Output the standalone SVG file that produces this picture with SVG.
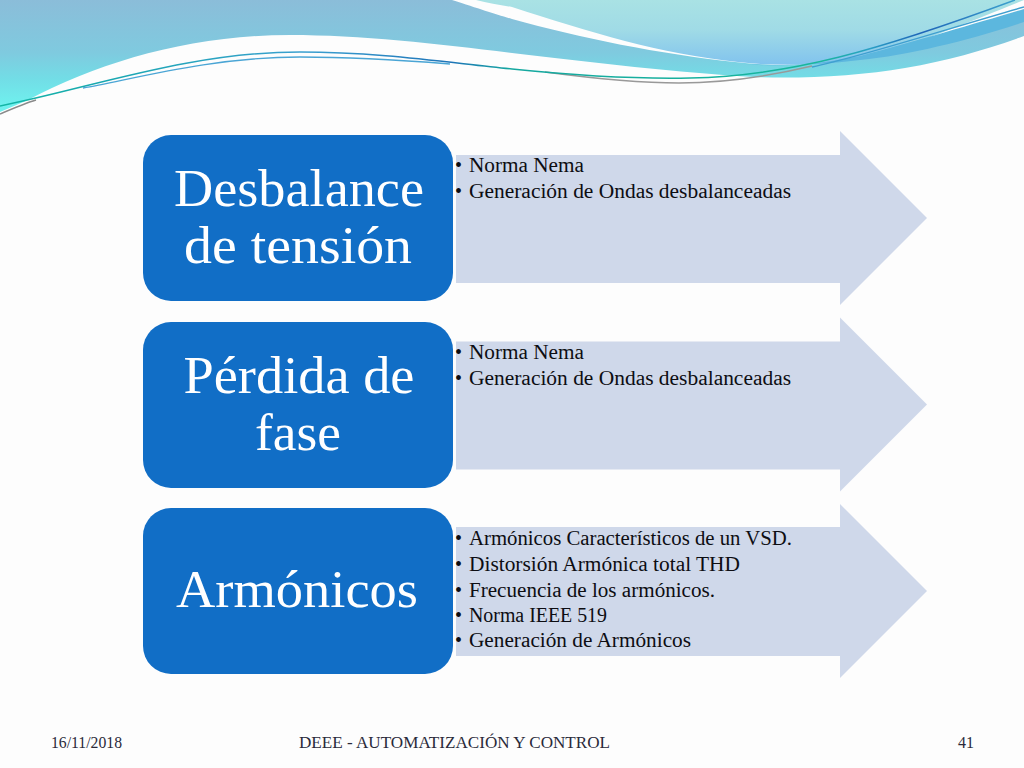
<svg xmlns="http://www.w3.org/2000/svg" width="1024" height="768" viewBox="0 0 1024 768">
<defs>
<linearGradient id="g1" gradientUnits="userSpaceOnUse" x1="0" y1="0" x2="0" y2="105"><stop offset="0" stop-color="#8bbdd9"/><stop offset="0.5" stop-color="#7fcadf"/><stop offset="0.75" stop-color="#72dde6"/><stop offset="1" stop-color="#6ff0ee"/></linearGradient>
<linearGradient id="g2" gradientUnits="userSpaceOnUse" x1="0" y1="0" x2="0" y2="66"><stop offset="0" stop-color="#a9e2e4"/><stop offset="0.45" stop-color="#a0dbe6"/><stop offset="1" stop-color="#80c2ee"/></linearGradient>
<linearGradient id="ln" gradientUnits="userSpaceOnUse" x1="0" y1="0" x2="1024" y2="0"><stop offset="0" stop-color="#13b5a5"/><stop offset="0.1" stop-color="#18a8b0"/><stop offset="0.3" stop-color="#3a9fd0"/><stop offset="0.44" stop-color="#1e74b8"/><stop offset="0.5" stop-color="#15a8a0"/><stop offset="0.8" stop-color="#18b79c"/><stop offset="0.85" stop-color="#2a9fc5"/><stop offset="0.9" stop-color="#1e64b8"/><stop offset="1" stop-color="#3fa8d0"/></linearGradient>
</defs>
<style>
.box{fill:#116ec6}
.arrow{fill:#cfd8ea}
.head{font-family:"Liberation Serif","DejaVu Serif",serif;font-size:53px;fill:#fff;text-anchor:middle}
.item{font-family:"Liberation Serif","DejaVu Serif",serif;font-size:20px;fill:#0d0d12}
.bul{font-family:"Liberation Serif","DejaVu Serif",serif;font-size:20px;fill:#0d0d12}
.foot{font-family:"Liberation Serif","DejaVu Serif",serif;font-size:17px;fill:#2a2a3a}
.line{fill:none}
</style>
<rect width="1024" height="768" fill="#fdfdfd"/>
<g id="banner">
<path d="M0 0H452C480 9 495 14 512 19C580 38 660 54 735 62C770 66 800 66 830 62C900 52 970 30 1024 10V36C985 50 950 60 905 68C860 76 800 79 755 77C680 73 590 62 512 53C440 44 360 35 290 35C190 35 100 62 28 100L0 112Z" fill="url(#g1)"/>
<path d="M476 0C488 3 500 5 512 7C590 32 660 54 738 62C790 68 850 64 890 52C950 30 1000 10 1024 0Z" fill="url(#g2)"/>
<path d="M745 64C790 68 830 62 860 56C920 40 980 22 1024 9V22C970 40 910 55 860 60C820 65 780 66 745 64Z" fill="#5cb7de"/>
<path d="M0 114C14 108 26 103 36 100" class="line" stroke="#8a8a8a" stroke-width="1.5"/>
<path d="M545 72C590 78 640 83 679 83C725 83 770 76 812 66" class="line" stroke="#999" stroke-width="1.5"/>
<path d="M0 106C90 88 190 52 300 52C380 52 450 63 512 69C580 76 640 79 690 78C790 76 880 50 1015 0" class="line" stroke="url(#ln)" stroke-width="1.5"/>
<path d="M83 88C130 80 210 57 300 57C350 57 400 60 450 64" class="line" stroke="#4aa5d5" stroke-width="1.3"/>
<path d="M812 67C860 57 950 28 1024 7" class="line" stroke="#3f9fd0" stroke-width="1.3"/>
</g>
<g id="arrow1"><path class="arrow" d="M456 155H840V131L927 218L840 305V283H456Z"/>
<text class="bul" x="455" y="172">•</text><text class="bul" x="455" y="198">•</text>
<text class="item" x="469" y="172" textLength="115" lengthAdjust="spacingAndGlyphs">Norma Nema</text>
<text class="item" x="469" y="198" textLength="322" lengthAdjust="spacingAndGlyphs">Generación de Ondas desbalanceadas</text></g>
<g id="arrow2"><path class="arrow" d="M456 341.500H840V317.500L927 404.500L840 491.500V469.500H456Z"/>
<text class="bul" x="455" y="359">•</text><text class="bul" x="455" y="385">•</text>
<text class="item" x="469" y="359" textLength="115" lengthAdjust="spacingAndGlyphs">Norma Nema</text>
<text class="item" x="469" y="385" textLength="322" lengthAdjust="spacingAndGlyphs">Generación de Ondas desbalanceadas</text></g>
<g id="arrow3"><path class="arrow" d="M456 527H840V504L927 591L840 678V656H456Z"/>
<text class="bul" x="455" y="545">•</text><text class="bul" x="455" y="571">•</text><text class="bul" x="455" y="597">•</text><text class="bul" x="455" y="622">•</text><text class="bul" x="455" y="647">•</text>
<text class="item" x="469" y="545" textLength="323" lengthAdjust="spacingAndGlyphs">Armónicos Característicos de un VSD.</text>
<text class="item" x="469" y="571" textLength="271" lengthAdjust="spacingAndGlyphs">Distorsión Armónica total THD</text>
<text class="item" x="469" y="597" textLength="246" lengthAdjust="spacingAndGlyphs">Frecuencia de los armónicos.</text>
<text class="item" x="469" y="622" textLength="138" lengthAdjust="spacingAndGlyphs">Norma IEEE 519</text>
<text class="item" x="469" y="647" textLength="222" lengthAdjust="spacingAndGlyphs">Generación de Armónicos</text></g>
<g id="box1"><rect class="box" x="143" y="135" width="310" height="166" rx="28"/>
<text class="head" x="299" y="206" textLength="250" lengthAdjust="spacingAndGlyphs">Desbalance</text>
<text class="head" x="298" y="263" textLength="228" lengthAdjust="spacingAndGlyphs">de tensión</text></g>
<g id="box2"><rect class="box" x="143" y="322" width="310" height="166" rx="28"/>
<text class="head" x="299" y="393" textLength="231" lengthAdjust="spacingAndGlyphs">Pérdida de</text>
<text class="head" x="298" y="450" textLength="86" lengthAdjust="spacingAndGlyphs">fase</text></g>
<g id="box3"><rect class="box" x="143" y="508" width="310" height="166" rx="28"/>
<text class="head" x="297" y="607" textLength="242" lengthAdjust="spacingAndGlyphs">Armónicos</text></g>
<g id="footer">
<text class="foot" x="51" y="748" textLength="71" lengthAdjust="spacingAndGlyphs">16/11/2018</text>
<text class="foot" x="299" y="748" textLength="311" lengthAdjust="spacingAndGlyphs">DEEE - AUTOMATIZACIÓN Y CONTROL</text>
<text class="foot" x="958" y="748" textLength="16" lengthAdjust="spacingAndGlyphs">41</text>
</g>
</svg>
